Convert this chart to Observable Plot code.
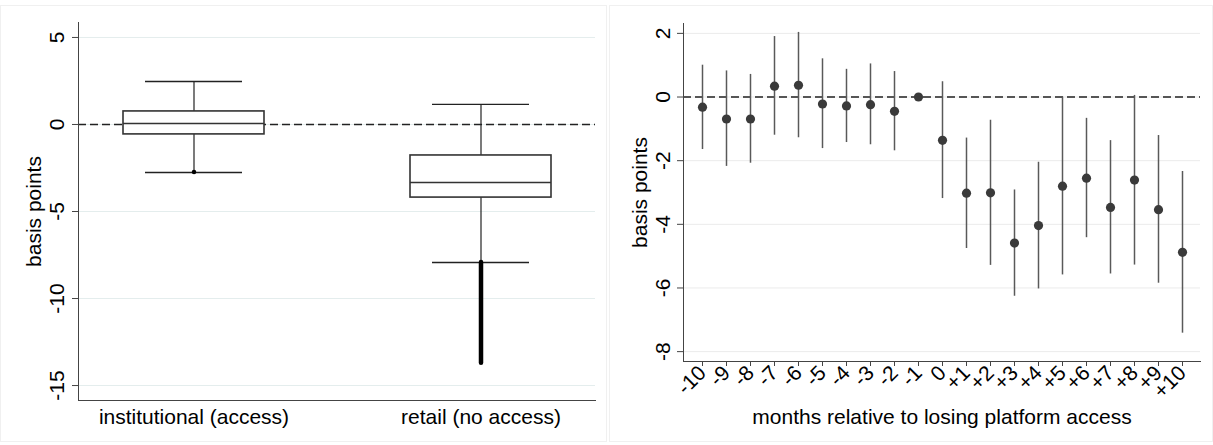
<!DOCTYPE html>
<html><head><meta charset="utf-8">
<script src="https://cdn.jsdelivr.net/npm/d3@7"></script>
<script src="https://cdn.jsdelivr.net/npm/@observablehq/plot@0.6"></script>
<style>
body{margin:0;background:#fff;}
#wrap{position:relative;width:1213px;height:445px;font-family:"Liberation Sans",Arial,sans-serif;overflow:hidden;}
#left{position:absolute;left:0;top:0;}
#right{position:absolute;left:610px;top:0;}
.pane{position:absolute;border:1px solid #f0f0f0;box-sizing:border-box;}
</style></head><body>
<div id="wrap">
<div class="pane" style="left:0;top:5px;width:607px;height:437px;"></div>
<div class="pane" style="left:609px;top:5px;width:604px;height:437px;"></div>
<div id="left"></div><div id="right"></div></div>
<script>
// ---- Left panel: box plot summary statistics ----
const groups = ["institutional (access)", "retail (no access)"];
const q1 = [-0.57, -4.2];
const median = [0.06, -3.33];
const q3 = [0.75, -1.78];
const whiskerLow = [-2.76, -7.93];
const whiskerHigh = [2.47, 1.15];
const outlierTop = [-2.76, -7.93];
const outlierBottom = [-2.76, -13.72];
const leftTicks = [5, 0, -5, -10, -15];

// ---- Right panel: event-study coefficients ----
const months = ["-10","-9","-8","-7","-6","-5","-4","-3","-2","-1","0","+1","+2","+3","+4","+5","+6","+7","+8","+9","+10"];
const coef   = [-0.32,-0.69,-0.69,0.34,0.37,-0.22,-0.28,-0.24,-0.45,0,-1.36,-3.02,-3.01,-4.59,-4.04,-2.80,-2.55,-3.47,-2.61,-3.54,-4.88];
const ciLow  = [-1.65,-2.18,-2.08,-1.2,-1.28,-1.62,-1.43,-1.5,-1.69,null,-3.19,-4.76,-5.29,-6.26,-6.03,-5.59,-4.42,-5.56,-5.28,-5.85,-7.42];
const ciHigh = [1.0,0.82,0.71,1.90,2.03,1.2,0.87,1.04,0.80,null,0.48,-1.29,-0.73,-2.92,-2.05,0.0,-0.67,-1.37,0.05,-1.21,-2.34];
const rightTicks = [2, 0, -2, -4, -6, -8];

const FONT = '"Liberation Sans", Arial, Helvetica, sans-serif';
const FS = 21;
const boxData = groups.map((g, i) => ({g, q1: q1[i], med: median[i], q3: q3[i], wl: whiskerLow[i], wh: whiskerHigh[i], ot: outlierTop[i], ob: outlierBottom[i]}));
const est = months.map((m, i) => ({m, b: coef[i], lo: ciLow[i], hi: ciHigh[i]}));

const left = Plot.plot({
  width: 605, height: 445,
  marginLeft: 78, marginRight: 10, marginTop: 22, marginBottom: 45,
  style: {fontFamily: FONT, fontSize: FS + "px", color: "#000", background: "transparent", overflow: "visible"},
  x: {type: "band", domain: groups, paddingInner: 0.509, paddingOuter: 0.155, label: null},
  y: {domain: [-15.86, 5.86], label: null},
  marks: [
    Plot.gridY(leftTicks, {stroke: "#e4eded", strokeOpacity: 1, strokeWidth: 1}),
    Plot.ruleY([0], {stroke: "#222", strokeWidth: 1.3, strokeDasharray: "8,4"}),
    Plot.ruleX(boxData, {x: "g", y1: "wl", y2: "wh", stroke: "#222", strokeWidth: 1.2}),
    Plot.barY(boxData, {x: "g", y1: "q1", y2: "q3", fill: "white", stroke: "#333", strokeWidth: 1.6}),
    Plot.tickY(boxData, {x: "g", y: "med", stroke: "#333", strokeWidth: 1.5}),
    Plot.tickY(boxData, {x: "g", y: "wl", insetLeft: 22, insetRight: 22, stroke: "#222", strokeWidth: 1.3}),
    Plot.tickY(boxData, {x: "g", y: "wh", insetLeft: 22, insetRight: 22, stroke: "#222", strokeWidth: 1.3}),
    Plot.ruleX(boxData, {x: "g", y1: "ot", y2: "ob", stroke: "#000", strokeWidth: 4.5, strokeLinecap: "round"}),
    Plot.axisY(leftTicks, {tickSize: 6, tickFormat: () => "", label: null, stroke: "#444"}),
    Plot.text(leftTicks, {y: d => d, text: d => String(d), frameAnchor: "left", dx: -21, rotate: -90, textAnchor: "middle", lineAnchor: "middle", fill: "#000", fontSize: FS}),
    Plot.text(["basis points"], {frameAnchor: "left", dx: -44, rotate: -90, textAnchor: "middle", lineAnchor: "middle", fill: "#000", fontSize: FS}),
    Plot.axisX({tickSize: 0, tickPadding: 9, label: null, fontSize: FS}),
    Plot.frame({anchor: "left", stroke: "#444"}),
    Plot.frame({anchor: "bottom", stroke: "#444"})
  ]
});
document.getElementById("left").append(left);

const right = Plot.plot({
  width: 603, height: 445,
  marginLeft: 73, marginRight: 13, marginTop: 23, marginBottom: 84,
  style: {fontFamily: FONT, fontSize: FS + "px", color: "#000", background: "transparent", overflow: "visible"},
  x: {type: "point", domain: months, padding: 0.49, label: null},
  y: {domain: [-8.31, 2.31], label: null},
  marks: [
    Plot.gridY(rightTicks, {stroke: "#ebebeb", strokeOpacity: 1, strokeWidth: 1}),
    Plot.ruleY([0], {stroke: "#222", strokeWidth: 1.3, strokeDasharray: "8,4"}),
    Plot.ruleX(est.filter(d => d.lo != null), {x: "m", y1: "lo", y2: "hi", stroke: "#595959", strokeWidth: 1.5}),
    Plot.dot(est, {x: "m", y: "b", r: 4.6, fill: "#3a3a3a", stroke: "none"}),
    Plot.axisY(rightTicks, {tickSize: 6, tickFormat: () => "", label: null, stroke: "#444"}),
    Plot.text(rightTicks, {y: d => d, text: d => String(d), frameAnchor: "left", dx: -20, rotate: -90, textAnchor: "middle", lineAnchor: "middle", fill: "#000", fontSize: FS}),
    Plot.text(["basis points"], {frameAnchor: "left", dx: -43, rotate: -90, textAnchor: "middle", lineAnchor: "middle", fill: "#000", fontSize: FS}),
    Plot.axisX({tickSize: 5, tickRotate: -45, tickPadding: 3, label: null, fontSize: FS, stroke: "#444"}),
    Plot.text(["months relative to losing platform access"], {frameAnchor: "bottom", dy: 56, textAnchor: "middle", lineAnchor: "middle", fill: "#000", fontSize: FS}),
    Plot.frame({anchor: "left", stroke: "#444"}),
    Plot.frame({anchor: "bottom", stroke: "#444"})
  ]
});
document.getElementById("right").append(right);
</script>
</body></html>
